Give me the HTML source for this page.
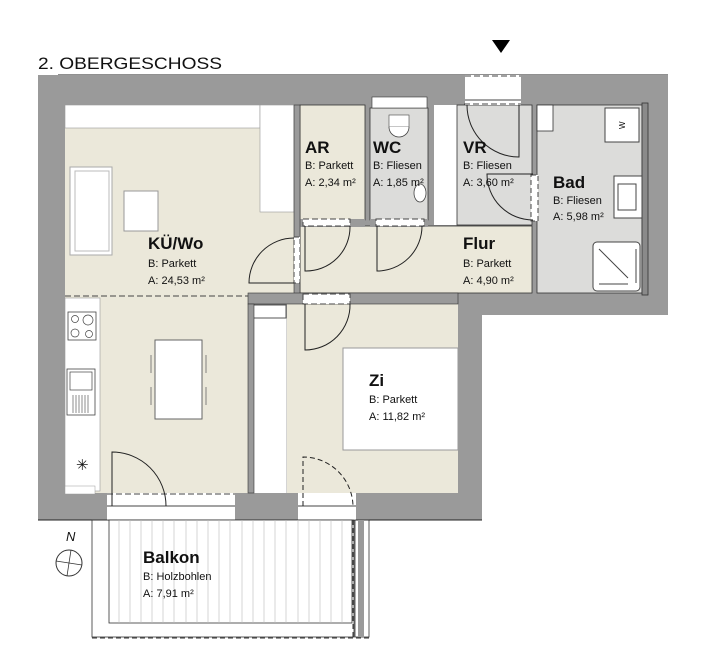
<!DOCTYPE html>
<html><head><meta charset="utf-8"><style>
html,body{margin:0;padding:0;background:#fff;}
svg{display:block;}
text{font-family:"Liberation Sans Narrow","Liberation Sans",Arial,sans-serif;fill:#111;}
.t{font-size:17px;font-weight:bold;}
.s{font-size:11px;}
</style></head><body>
<svg width="721" height="669" viewBox="0 0 721 669" xmlns="http://www.w3.org/2000/svg">
<text x="38" y="69" textLength="184" lengthAdjust="spacingAndGlyphs" style="font-family:'Liberation Sans',Arial,sans-serif;font-size:17px">2. OBERGESCHOSS</text>
<line x1="58" y1="75" x2="668" y2="75" stroke="#222" stroke-width="1"/>
<polygon points="492,40 510,40 501,53" fill="#000"/>
<!-- walls -->
<polygon points="38,75 668,75 668,315 482,315 482,520 38,520" fill="#9a9a9a"/>
<line x1="38" y1="520" x2="482" y2="520" stroke="#222"/>
<!-- KU/Wo -->
<rect x="65" y="105" width="229" height="188" fill="#ebe8da"/>
<rect x="65" y="105" width="195" height="23" fill="#fff" stroke="#999" stroke-width="0.6"/>
<rect x="260" y="105" width="34" height="107" fill="#fff" stroke="#999" stroke-width="0.6"/>
<rect x="70" y="167" width="42" height="88" fill="#fff" stroke="#aaa"/>
<rect x="75" y="171" width="34" height="80" fill="none" stroke="#bbb"/>
<rect x="124" y="191" width="34" height="40" fill="#fff" stroke="#999"/>
<!-- kitchen lower -->
<rect x="65" y="293" width="183" height="200" fill="#ebe8da"/>
<rect x="65" y="298" width="35" height="193" fill="#fff" stroke="#999" stroke-width="0.6"/>
<rect x="68" y="312" width="28" height="28" fill="#fff" stroke="#444" stroke-width="0.8"/>
<circle cx="75" cy="319" r="3.5" fill="none" stroke="#444" stroke-width="0.7"/><circle cx="88" cy="320" r="5" fill="none" stroke="#444" stroke-width="0.7"/>
<circle cx="75" cy="333" r="4" fill="none" stroke="#444" stroke-width="0.7"/><circle cx="89" cy="334" r="3.5" fill="none" stroke="#444" stroke-width="0.7"/>
<rect x="67" y="369" width="28" height="46" fill="#fff" stroke="#444" stroke-width="0.8"/>
<rect x="70" y="372" width="22" height="18" fill="none" stroke="#444" stroke-width="0.7"/>
<path d="M73 395v18M76 395v18M79 395v18M82 395v18M85 395v18M88 395v18" stroke="#444" stroke-width="0.6"/>
<text x="76" y="470" style="font-size:15px">✳</text>
<rect x="65" y="486" width="30" height="8" fill="#fff" stroke="#999" stroke-width="0.5"/>
<rect x="155" y="340" width="47" height="79" fill="#fff" stroke="#666"/>
<path d="M151 355v18M151 387v18M206 355v18M206 387v18" stroke="#666" stroke-width="0.8"/>
<line x1="65" y1="296" x2="248" y2="296" stroke="#444" stroke-dasharray="6,3"/>
<!-- corridor / Zi -->
<rect x="254" y="318" width="33" height="175" fill="#fff"/>
<line x1="287" y1="318" x2="287" y2="493" stroke="#aaa"/>
<rect x="287" y="304" width="171" height="189" fill="#ebe8da"/>
<rect x="343" y="348" width="115" height="102" fill="#fff" stroke="#999"/>
<rect x="252" y="305" width="34" height="13" fill="#fff" stroke="#555"/>
<!-- AR -->
<rect x="300" y="105" width="65" height="115" fill="#ebe8da" stroke="#333" stroke-width="0.8"/>
<!-- WC -->
<rect x="370" y="108" width="58" height="112" fill="#dcdcda" stroke="#333" stroke-width="0.8"/>
<rect x="372" y="97" width="55" height="11" fill="#fff" stroke="#333" stroke-width="0.6"/>
<rect x="389" y="115" width="20" height="12" fill="#fff" stroke="#444" stroke-width="0.6"/>
<path d="M389 127 a10 10 0 0 0 20 0" fill="#fff" stroke="#444" stroke-width="0.8"/>
<ellipse cx="420" cy="193" rx="6" ry="9" fill="#fff" stroke="#444" stroke-width="0.8"/>
<!-- white strip -->
<rect x="434" y="105" width="23" height="120" fill="#fff"/>
<!-- VR -->
<rect x="457" y="105" width="75" height="120" fill="#dcdcda" stroke="#333" stroke-width="0.8"/>
<!-- Flur -->
<rect x="300" y="226" width="232" height="67" fill="#ebe8da" stroke="#333" stroke-width="0.8"/>
<!-- Bad -->
<rect x="537" y="105" width="105" height="188" fill="#dcdcda" stroke="#333" stroke-width="0.8"/>
<rect x="537" y="105" width="16" height="26" fill="#fff" stroke="#333" stroke-width="0.8"/>
<rect x="642" y="103" width="6" height="192" fill="#8a8a8a" stroke="#333" stroke-width="0.8"/>
<rect x="605" y="108" width="34" height="34" fill="#fff" stroke="#444"/>
<text x="618" y="128" style="font-size:8px" transform="rotate(-90 622 125)">W</text>
<rect x="614" y="176" width="28" height="42" fill="#fff" stroke="#444"/>
<rect x="618" y="184" width="18" height="26" fill="none" stroke="#444"/>
<rect x="593" y="242" width="47" height="49" rx="4" fill="#fff" stroke="#444"/>
<line x1="599" y1="249" x2="628" y2="278" stroke="#444"/><line x1="636" y1="249" x2="636" y2="283" stroke="#444"/><line x1="599" y1="284" x2="628" y2="284" stroke="#444"/>
<!-- entry door -->
<rect x="465" y="75" width="56" height="30" fill="#fff"/>
<line x1="465" y1="76" x2="521" y2="76" stroke="#444" stroke-dasharray="6,3"/>
<line x1="465" y1="100" x2="521" y2="100" stroke="#444"/>
<line x1="464" y1="104" x2="521" y2="104" stroke="#444" stroke-dasharray="6,3"/>
<path d="M467 105 a52 52 0 0 0 52 52 v-52" fill="none" stroke="#222"/>
<!-- VR->Bad door -->
<rect x="531" y="175" width="7" height="46" fill="#fff" stroke="#444" stroke-dasharray="5,3"/>
<path d="M533 220 a46 46 0 0 1 -46 -46 h46" fill="none" stroke="#222"/>
<!-- doors from Flur -->
<rect x="299" y="219" width="66" height="8" fill="#9a9a9a"/>
<rect x="303" y="219" width="47" height="7" fill="#fff" stroke="#444" stroke-dasharray="6,3"/>
<path d="M305 226 v45 a44 44 0 0 0 45 -45" fill="none" stroke="#222"/>
<rect x="370" y="219" width="58" height="8" fill="#9a9a9a"/>
<rect x="376" y="219" width="48" height="7" fill="#fff" stroke="#444" stroke-dasharray="6,3"/>
<path d="M377 226 v45 a45 45 0 0 0 45 -45" fill="none" stroke="#222"/>
<!-- wall KU/Flur -->
<rect x="294" y="105" width="6" height="190" fill="#9a9a9a" stroke="#333" stroke-width="0.6"/>
<rect x="294" y="237" width="6" height="46" fill="#fff" stroke="#444" stroke-dasharray="5,3"/>
<path d="M294 238 a45 45 0 0 0 -45 45 h45" fill="none" stroke="#222"/>
<!-- wall Flur/Zi -->
<rect x="248" y="293" width="210" height="11" fill="#9a9a9a" stroke="#333" stroke-width="0.6"/>
<rect x="303" y="294" width="47" height="10" fill="#fff" stroke="#444" stroke-dasharray="6,3"/>
<path d="M305 304 v46 a45 45 0 0 0 45 -46" fill="none" stroke="#222"/>
<rect x="248" y="304" width="6" height="189" fill="#9a9a9a" stroke="#333" stroke-width="0.6"/>
<!-- balcony windows/doors -->
<rect x="107" y="493" width="128" height="27" fill="#fff"/>
<line x1="107" y1="494" x2="235" y2="494" stroke="#444" stroke-dasharray="6,3"/>
<line x1="107" y1="506" x2="235" y2="506" stroke="#444"/>
<path d="M112 506 v-54 a54 54 0 0 1 54 54" fill="none" stroke="#222"/>
<rect x="298" y="493" width="58" height="27" fill="#fff"/>
<line x1="298" y1="506" x2="356" y2="506" stroke="#444"/>
<path d="M303 506 v-49 a50 50 0 0 1 50 49" fill="none" stroke="#222" stroke-dasharray="5,3"/>
<!-- balcony -->
<rect x="92" y="520" width="262" height="117" fill="none" stroke="#333" stroke-width="0.8"/>
<line x1="92" y1="638" x2="369" y2="638" stroke="#333" stroke-dasharray="5,3"/>
<rect x="109" y="520" width="243" height="103" fill="#fff" stroke="#333" stroke-width="0.8"/>
<g stroke="#bbb" stroke-width="0.6">
<path d="M119 520v103M130 520v103M141 520v103M152 520v103M163 520v103M174 520v103M186 520v103M197 520v103M208 520v103M219 520v103M230 520v103M242 520v103M253 520v103M264 520v103M275 520v103M286 520v103M298 520v103M309 520v103M320 520v103M331 520v103M342 520v103"/>
</g>
<rect x="355" y="520" width="14" height="117" fill="none" stroke="#333" stroke-width="0.8"/>
<rect x="358" y="520" width="6" height="117" fill="#9a9a9a"/>
<line x1="353" y1="520" x2="353" y2="637" stroke="#333" stroke-dasharray="5,3"/>
<!-- compass -->
<text x="66" y="541" style="font-size:13px;font-style:italic">N</text>
<circle cx="69" cy="563" r="13" fill="none" stroke="#333"/>
<line x1="56" y1="561" x2="82" y2="565" stroke="#333" stroke-width="0.8"/>
<line x1="71" y1="550" x2="67" y2="576" stroke="#333" stroke-width="0.8"/>
<!-- labels -->
<text class="t" x="148" y="249">KÜ/Wo</text><text class="s" x="148" y="267">B: Parkett</text><text class="s" x="148" y="284">A: 24,53 m²</text>
<text class="t" x="305" y="153">AR</text><text class="s" x="305" y="169">B: Parkett</text><text class="s" x="305" y="186">A: 2,34 m²</text>
<text class="t" x="373" y="153">WC</text><text class="s" x="373" y="169">B: Fliesen</text><text class="s" x="373" y="186">A: 1,85 m²</text>
<text class="t" x="463" y="153">VR</text><text class="s" x="463" y="169">B: Fliesen</text><text class="s" x="463" y="186">A: 3,60 m²</text>
<text class="t" x="553" y="188">Bad</text><text class="s" x="553" y="204">B: Fliesen</text><text class="s" x="553" y="220">A: 5,98 m²</text>
<text class="t" x="463" y="249">Flur</text><text class="s" x="463" y="267">B: Parkett</text><text class="s" x="463" y="284">A: 4,90 m²</text>
<text class="t" x="369" y="386">Zi</text><text class="s" x="369" y="403">B: Parkett</text><text class="s" x="369" y="420">A: 11,82 m²</text>
<text class="t" x="143" y="563">Balkon</text><text class="s" x="143" y="580">B: Holzbohlen</text><text class="s" x="143" y="597">A: 7,91 m²</text>
</svg>
</body></html>
